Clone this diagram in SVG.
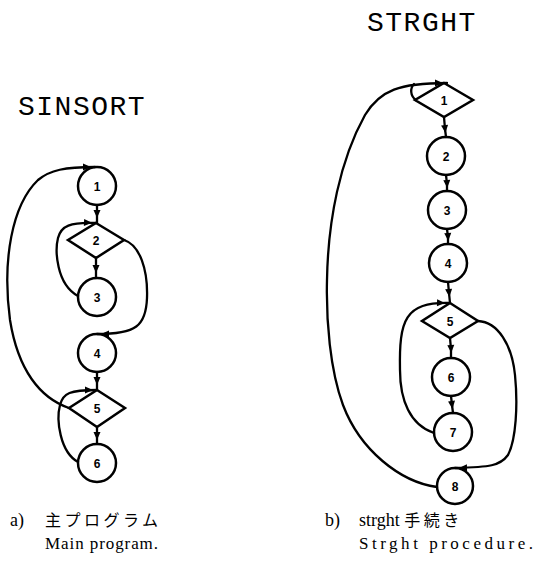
<svg xmlns="http://www.w3.org/2000/svg" width="536" height="563" viewBox="0 0 536 563">
<style>
.n{fill:none;stroke:#000;stroke-width:2.5}
.c{fill:none;stroke:#000;stroke-width:2.3;stroke-linecap:round}
.l{font-family:"Liberation Sans",Arial,sans-serif;font-weight:bold;font-size:12px;text-anchor:middle;fill:#000}
.t{font-family:"Liberation Mono","DejaVu Sans Mono",monospace;font-size:28px;letter-spacing:1.5px;fill:#000}
.cap{font-family:"Liberation Serif","Noto Sans CJK JP",serif;font-size:18px;fill:#000}
.cap2{font-family:"Liberation Serif",serif;font-size:17px;fill:#000}
.jp{font-family:"Noto Sans CJK JP",sans-serif;font-size:16px;letter-spacing:3.5px}
</style>
<defs>
<marker id="am" viewBox="-5 -5 10 10" refX="0" refY="0" markerWidth="10" markerHeight="10" markerUnits="userSpaceOnUse" orient="auto"><path d="M4,0 L-4,-3.5 L-4,3.5 Z" fill="#000"/></marker>
<marker id="ae" viewBox="-5 -5 14 10" refX="8" refY="0" markerWidth="14" markerHeight="10" markerUnits="userSpaceOnUse" orient="auto"><path d="M4,0 L-4,-3.5 L-4,3.5 Z" fill="#000"/></marker>
</defs>
<rect width="536" height="563" fill="#fff"/>

<text class="t" x="18" y="115">SINSORT</text>
<text class="t" x="367" y="31">STRGHT</text>

<g id="connectors">
<path class="c" d="M97,205 L97,214 L97,223" marker-mid="url(#am)"/>
<path class="c" d="M96,258 L96,269 L96,278" marker-mid="url(#am)"/>
<path class="c" d="M97,372 L97,381 L97,390" marker-mid="url(#am)"/>
<path class="c" d="M97,427 L97,436 L97,444" marker-mid="url(#am)"/>
<path class="c" d="M78,296 C56,284 55,250 58,238 C61,226 70,222 96,223" marker-end="url(#ae)"/>
<path class="c" d="M124,240 C140,245 148,270 147,298 C146,326 136,334 97,334" marker-end="url(#ae)"/>
<path class="c" d="M78,462 C60,452 56,420 60,405 C63,393 70,390 97,390" marker-end="url(#ae)"/>
<path class="c" d="M69,408 C40,398 18,370 10,320 C2,260 12,205 38,180 C50,170 65,167 95,167" marker-end="url(#ae)"/>
<path class="c" d="M444,117 L445,129 L446,137" marker-mid="url(#am)"/>
<path class="c" d="M446,175 L447,184 L447,191" marker-mid="url(#am)"/>
<path class="c" d="M447,229 L448,237 L448,244" marker-mid="url(#am)"/>
<path class="c" d="M448,282 L449,293 L450,303" marker-mid="url(#am)"/>
<path class="c" d="M450,338 L451,349 L451,358" marker-mid="url(#am)"/>
<path class="c" d="M451,396 L452,405 L453,413" marker-mid="url(#am)"/>
<path class="c" d="M434,433 C410,425 400,400 400,370 C399,320 405,302 449,303" marker-end="url(#ae)"/>
<path class="c" d="M478,321 C498,322 512,345 515,375 C518,405 516,440 508,455 C500,466 490,467 455,468" marker-end="url(#ae)"/>
<path class="c" d="M437,487 C400,482 360,450 343,405 C330,370 326,320 327,280 C328,220 340,160 365,115 C380,90 400,83 447,83" marker-end="url(#ae)"/>
<path class="c" d="M416,100 C410,96 410,88 414,84"/>
</g>

<g id="L1"><circle class="n" cx="97" cy="186" r="19"/><text class="l" x="97" y="190.5">1</text></g>
<g id="L2"><path class="n" d="M96,223 L124,240 L96,258 L68,240 Z"/><text class="l" x="96" y="244.5">2</text></g>
<g id="L3"><circle class="n" cx="97" cy="297" r="19"/><text class="l" x="97" y="301.5">3</text></g>
<g id="L4"><circle class="n" cx="97" cy="353" r="19"/><text class="l" x="97" y="357.5">4</text></g>
<g id="L5"><path class="n" d="M97,390 L125,408 L97,427 L69,408 Z"/><text class="l" x="97" y="412.5">5</text></g>
<g id="L6"><circle class="n" cx="97" cy="463" r="19"/><text class="l" x="97" y="467.5">6</text></g>

<g id="R1"><path class="n" d="M444,83 L473,100 L444,117 L415,100 Z"/><text class="l" x="444" y="104.5">1</text></g>
<g id="R2"><circle class="n" cx="446" cy="156" r="19"/><text class="l" x="446" y="160.5">2</text></g>
<g id="R3"><circle class="n" cx="447" cy="210" r="19"/><text class="l" x="447" y="214.5">3</text></g>
<g id="R4"><circle class="n" cx="448" cy="263" r="19"/><text class="l" x="448" y="267.5">4</text></g>
<g id="R5"><path class="n" d="M450,303 L478,321 L450,338 L422,321 Z"/><text class="l" x="450" y="325.5">5</text></g>
<g id="R6"><circle class="n" cx="451" cy="377" r="19"/><text class="l" x="451" y="381.5">6</text></g>
<g id="R7"><circle class="n" cx="453" cy="432" r="19"/><text class="l" x="453" y="436.5">7</text></g>
<g id="R8"><circle class="n" cx="455" cy="486" r="18"/><text class="l" x="455" y="490.5">8</text></g>

<g id="captionA">
<text class="cap" x="10" y="526">a)<tspan class="jp" x="45">主プログラム</tspan></text>
<text class="cap2" x="45" y="549" textLength="113" lengthAdjust="spacing">Main program.</text>
</g>
<g id="captionB">
<text class="cap" x="325" y="526">b)<tspan x="359">strght </tspan><tspan class="jp" letter-spacing="1">手続き</tspan></text>
<text class="cap2" x="359" y="549" textLength="174" lengthAdjust="spacing">Strght procedure.</text>
</g>
</svg>
